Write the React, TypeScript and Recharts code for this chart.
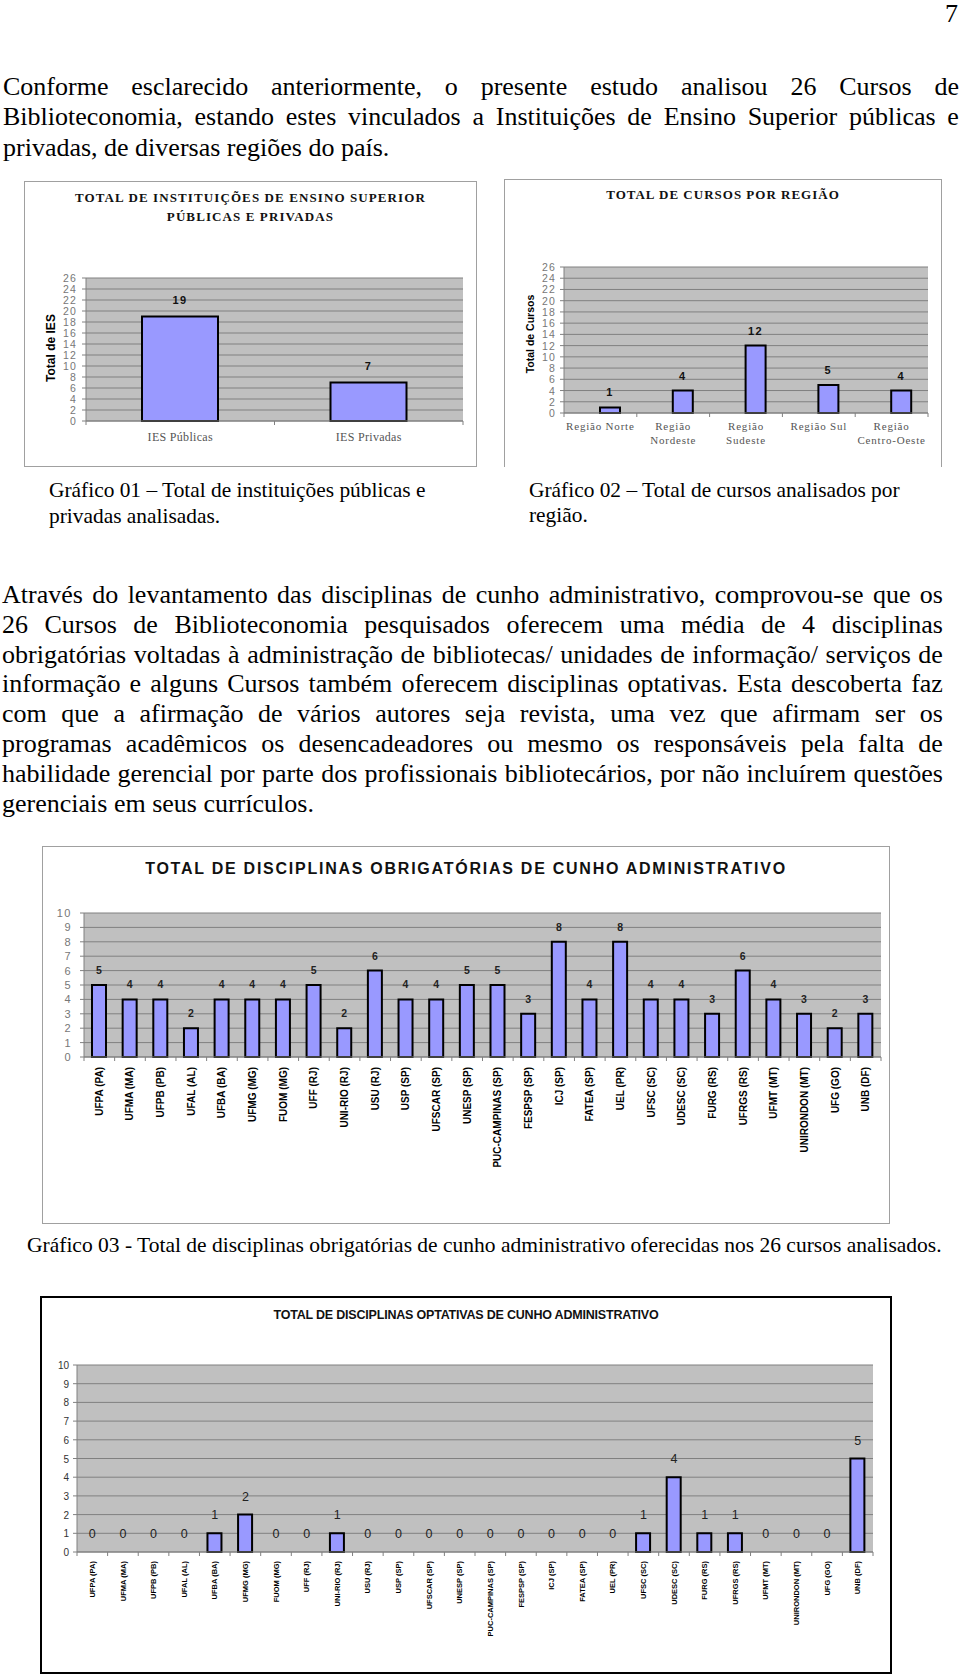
import React from 'react';
import { BarChart, ComposedChart, Bar, Line, XAxis, YAxis, CartesianGrid, LabelList } from 'recharts';

const SANS = '"Liberation Sans", Arial, Helvetica, sans-serif';
const SERIF = '"Liberation Serif", "Times New Roman", Times, serif';

// ---------- data ----------
const iesCategories = ['IES Públicas', 'IES Privadas'];
const iesValues = [19, 7];
const iesTicks = [0, 2, 4, 6, 8, 10, 12, 14, 16, 18, 20, 22, 24, 26];

const regionCategories = ['Região Norte', 'Região Nordeste', 'Região Sudeste', 'Região Sul', 'Região Centro-Oeste'];
const regionValues = [1, 4, 12, 5, 4];
const regionTicks = [0, 2, 4, 6, 8, 10, 12, 14, 16, 18, 20, 22, 24, 26];

const courseCategories = [
  'UFPA (PA)', 'UFMA (MA)', 'UFPB (PB)', 'UFAL (AL)', 'UFBA (BA)', 'UFMG (MG)', 'FUOM (MG)',
  'UFF (RJ)', 'UNI-RIO (RJ)', 'USU (RJ)', 'USP (SP)', 'UFSCAR (SP)', 'UNESP (SP)',
  'PUC-CAMPINAS (SP)', 'FESPSP (SP)', 'ICJ (SP)', 'FATEA (SP)', 'UEL (PR)', 'UFSC (SC)',
  'UDESC (SC)', 'FURG (RS)', 'UFRGS (RS)', 'UFMT (MT)', 'UNIRONDON (MT)', 'UFG (GO)', 'UNB (DF)',
];
const mandatoryValues = [5, 4, 4, 2, 4, 4, 4, 5, 2, 6, 4, 4, 5, 5, 3, 8, 4, 8, 4, 4, 3, 6, 4, 3, 2, 3];
const optionalValues = [0, 0, 0, 0, 1, 2, 0, 0, 1, 0, 0, 0, 0, 0, 0, 0, 0, 0, 1, 4, 1, 1, 0, 0, 0, 5];
const disciplineTicks = [0, 1, 2, 3, 4, 5, 6, 7, 8, 9, 10];

const paragraph1 = [
  'Conforme esclarecido anteriormente, o presente estudo analisou 26 Cursos de',
  'Biblioteconomia, estando estes vinculados a Instituições de Ensino Superior públicas e',
  'privadas, de diversas regiões do país.',
];
const paragraph2 = [
  'Através do levantamento das disciplinas de cunho administrativo, comprovou-se que os',
  '26 Cursos de Biblioteconomia pesquisados oferecem uma média de 4 disciplinas',
  'obrigatórias voltadas à administração de bibliotecas/ unidades de informação/ serviços de',
  'informação e alguns Cursos também oferecem disciplinas optativas. Esta descoberta faz',
  'com que a afirmação de vários autores seja revista, uma vez que afirmam ser os',
  'programas acadêmicos os desencadeadores ou mesmo os responsáveis pela falta de',
  'habilidade gerencial por parte dos profissionais bibliotecários, por não incluírem questões',
  'gerenciais em seus currículos.',
];

const iesData = iesCategories.map((name, i) => ({ name, value: iesValues[i] }));
const regionData = regionCategories.map((name, i) => ({ name, value: regionValues[i] }));
const mandatoryData = courseCategories.map((name, i) => ({ name, value: mandatoryValues[i] }));
const optionalData = courseCategories.map((name, i) => ({ name, value: optionalValues[i] }));

// ---------- helpers ----------
function TextLine(props: any) {
  const { text, left, width, baseline, fontSize, justify } = props;
  const lh = Math.round(fontSize * 1.25);
  const top = baseline - (lh - 1.107 * fontSize) / 2 - 0.891 * fontSize;
  const style: any = {
    position: 'absolute', left, top, width, height: lh, lineHeight: `${lh}px`,
    fontSize, fontFamily: SERIF, color: '#000', whiteSpace: 'nowrap',
  };
  if (justify) {
    return (
      <div style={{ ...style, display: 'flex', justifyContent: 'space-between' }}>
        {text.split(' ').map((w: string, i: number) => <span key={i}>{w}</span>)}
      </div>
    );
  }
  return <div style={style}>{text}</div>;
}

function makeCategoryTick(band: number, lastName: string, render: (x: number, y: number, v: string) => any) {
  return (props: any) => {
    const { x, y, payload } = props;
    const v = String(payload.value);
    return (
      <g>
        <line x1={x - band / 2} y1={y} x2={x - band / 2} y2={y + 4} stroke="#808080" />
        {v === lastName && <line x1={x + band / 2} y1={y} x2={x + band / 2} y2={y + 4} stroke="#808080" />}
        {render(x, y, v)}
      </g>
    );
  };
}

function makeYTick(style: any) {
  return (props: any) => (
    <text x={props.x} y={props.y} dy={4} textAnchor="end" {...style}>{props.payload.value}</text>
  );
}

function makeValueLabel(style: any, gap: number) {
  return (props: any) => {
    const { x, y, width, value } = props;
    return (
      <text x={Number(x) + Number(width) / 2} y={Number(y) - gap} textAnchor="middle" {...style}>{value}</text>
    );
  };
}

function makePointLabel(style: any, gap: number) {
  return (props: any) => {
    const { x, y, value, index } = props;
    return (
      <text key={'pl' + index} x={Number(x)} y={Number(y) - gap} textAnchor="middle" {...style}>{value}</text>
    );
  };
}

const GRID = '#808080';
const PLOT_BG = '#C0C0C0';
const BAR = '#9999FF';

export default function App() {
  const c1 = { w: 453, h: 286, m: { top: 97, right: 14, bottom: 16, left: 22 }, yw: 40, xh: 30 };
  const c1Band = (c1.w - c1.m.left - c1.yw - c1.m.right) / iesCategories.length;
  const c2 = { w: 438, h: 288, m: { top: 88, right: 14, bottom: 14, left: 20 }, yw: 40, xh: 40 };
  const c2Band = (c2.w - c2.m.left - c2.yw - c2.m.right) / regionCategories.length;
  const c3 = { w: 848, h: 378, m: { top: 67, right: 9, bottom: 17, left: 2 }, yw: 40, xh: 150 };
  const c3Band = (c3.w - c3.m.left - c3.yw - c3.m.right) / courseCategories.length;
  const c4 = { w: 852, h: 378, m: { top: 69, right: 19, bottom: 12, left: 2 }, yw: 35, xh: 110 };
  const c4Band = (c4.w - c4.m.left - c4.yw - c4.m.right) / courseCategories.length;

  const lastCourse = courseCategories[courseCategories.length - 1];

  return (
    <div style={{ position: 'absolute', left: 0, top: 0, width: 960, height: 1677, background: '#fff', overflow: 'hidden' }}>
      {/* page number */}
      <div style={{ position: 'absolute', left: 0, top: 23 - 0.891 * 26 - (32 - 1.107 * 26) / 2, width: 958, height: 32, lineHeight: '32px', textAlign: 'right', fontFamily: SERIF, fontSize: 26 }}>7</div>

      {paragraph1.map((t, i) => (
        <TextLine key={'p1' + i} text={t} left={3} width={956} baseline={95 + i * 30.5} fontSize={26} justify={i < paragraph1.length - 1} />
      ))}

      {/* ---------- Chart 1 ---------- */}
      <div style={{ position: 'absolute', left: 24, top: 181 }}>
        <BarChart width={c1.w} height={c1.h} data={iesData} margin={c1.m} barSize={76}>
          <CartesianGrid vertical={false} stroke={GRID} fill={PLOT_BG} fillOpacity={1} />
          <XAxis
            dataKey="name" interval={0} height={c1.xh} tickSize={0} tickMargin={0} tickLine={false}
            axisLine={{ stroke: GRID }}
            tick={makeCategoryTick(c1Band, iesCategories[iesCategories.length - 1], (x, y, v) => (
              <text x={x} y={y + 20} textAnchor="middle" fontFamily={SERIF} fontSize={12} fill="#555" letterSpacing={0.3}>{v}</text>
            ))}
          />
          <YAxis
            domain={[0, 26]} ticks={iesTicks} interval={0} width={c1.yw} tickSize={4} tickMargin={5}
            axisLine={{ stroke: GRID }} tickLine={{ stroke: GRID }}
            tick={makeYTick({ fontFamily: SANS, fontSize: 10.5, fill: '#777', letterSpacing: 1.2 })}
          />
          <Bar dataKey="value" fill={BAR} stroke="#000" strokeWidth={2} isAnimationActive={false}>
            <LabelList dataKey="value" content={makeValueLabel({ fontFamily: SANS, fontSize: 11, fontWeight: 'bold', fill: '#111', letterSpacing: 1.5 }, 13)} />
          </Bar>
        </BarChart>
      </div>
      <div style={{ position: 'absolute', left: 24, top: 181, width: 453, height: 286, boxSizing: 'border-box', border: '1px solid #A0A0A0', pointerEvents: 'none' }} />
      <div style={{ position: 'absolute', left: 24, top: 188, width: 453, textAlign: 'center', fontFamily: SERIF, fontWeight: 'bold', fontSize: 13, letterSpacing: 1.1, lineHeight: '19px', color: '#111' }}>
        <div>TOTAL DE INSTITUIÇÕES DE ENSINO SUPERIOR</div>
        <div>PÚBLICAS E PRIVADAS</div>
      </div>
      <div style={{ position: 'absolute', left: 51 - 60, top: 348 - 8, width: 120, height: 16, lineHeight: '16px', textAlign: 'center', transform: 'rotate(-90deg)', fontFamily: SANS, fontWeight: 'bold', fontSize: 12, color: '#000' }}>Total de IES</div>

      {/* ---------- Chart 2 ---------- */}
      <div style={{ position: 'absolute', left: 504, top: 179 }}>
        <BarChart width={c2.w} height={c2.h} data={regionData} margin={c2.m} barGap={0}>
          <CartesianGrid vertical={false} stroke={GRID} fill={PLOT_BG} fillOpacity={1} />
          <XAxis
            dataKey="name" interval={0} height={c2.xh} tickSize={0} tickMargin={0} tickLine={false}
            axisLine={{ stroke: GRID }}
            tick={makeCategoryTick(c2Band, regionCategories[regionCategories.length - 1], (x, y, v) => {
              const parts = v.length > 12 ? [v.slice(0, v.indexOf(' ')), v.slice(v.indexOf(' ') + 1)] : [v];
              return (
                <text x={x} y={y + 17} textAnchor="middle" fontFamily={SERIF} fontSize={11} fill="#555" letterSpacing={0.8}>
                  {parts.map((p, i) => <tspan key={i} x={x} dy={i === 0 ? 0 : 14}>{p}</tspan>)}
                </text>
              );
            })}
          />
          <YAxis
            domain={[0, 26]} ticks={regionTicks} interval={0} width={c2.yw} tickSize={4} tickMargin={4}
            axisLine={{ stroke: GRID }} tickLine={{ stroke: GRID }}
            tick={makeYTick({ fontFamily: SANS, fontSize: 10.5, fill: '#777', letterSpacing: 1.2 })}
          />
          <Bar dataKey="placeholder" barSize={20} fill="none" isAnimationActive={false} />
          <Bar dataKey="value" barSize={20} fill={BAR} stroke="#000" strokeWidth={2} isAnimationActive={false}>
            <LabelList dataKey="value" content={makeValueLabel({ fontFamily: SANS, fontSize: 11, fontWeight: 'bold', fill: '#111', letterSpacing: 1.5 }, 11)} />
          </Bar>
        </BarChart>
      </div>
      <div style={{ position: 'absolute', left: 504, top: 179, width: 438, height: 288, boxSizing: 'border-box', borderLeft: '1px solid #A0A0A0', borderTop: '1px solid #A0A0A0', borderRight: '1px solid #A0A0A0', pointerEvents: 'none' }} />
      <div style={{ position: 'absolute', left: 504, top: 185, width: 438, textAlign: 'center', fontFamily: SERIF, fontWeight: 'bold', fontSize: 13, letterSpacing: 1, lineHeight: '19px', color: '#111' }}>
        TOTAL DE CURSOS POR REGIÃO
      </div>
      <div style={{ position: 'absolute', left: 530 - 60, top: 334 - 8, width: 120, height: 16, lineHeight: '16px', textAlign: 'center', transform: 'rotate(-90deg)', fontFamily: SANS, fontWeight: 'bold', fontSize: 10.5, color: '#000' }}>Total de Cursos</div>

      {/* captions 1 & 2 */}
      <TextLine text="Gráfico 01 – Total de instituições públicas e" left={49} width={420} baseline={498} fontSize={21.4} />
      <TextLine text="privadas analisadas." left={49} width={420} baseline={524} fontSize={21.4} />
      <TextLine text="Gráfico 02 – Total de cursos analisados por" left={529} width={420} baseline={498} fontSize={21.4} />
      <TextLine text="região." left={529} width={420} baseline={523} fontSize={21.4} />

      {paragraph2.map((t, i) => (
        <TextLine key={'p2' + i} text={t} left={2} width={941} baseline={603 + i * 29.9} fontSize={26} justify={i < paragraph2.length - 1} />
      ))}

      {/* ---------- Chart 3 ---------- */}
      <div style={{ position: 'absolute', left: 42, top: 846 }}>
        <BarChart width={c3.w} height={c3.h} data={mandatoryData} margin={c3.m} barSize={14}>
          <CartesianGrid vertical={false} stroke={GRID} fill={PLOT_BG} fillOpacity={1} />
          <XAxis
            dataKey="name" interval={0} height={c3.xh} tickSize={0} tickMargin={0} tickLine={false}
            axisLine={{ stroke: GRID }}
            tick={makeCategoryTick(c3Band, lastCourse, (x, y, v) => (
              <text x={x} y={y + 10} dy="0.35em" textAnchor="end" transform={`rotate(-90, ${x}, ${y + 10})`} fontFamily={SANS} fontSize={10} fontWeight="bold" fill="#000">{v}</text>
            ))}
          />
          <YAxis
            domain={[0, 10]} ticks={disciplineTicks} interval={0} width={c3.yw} tickSize={4} tickMargin={8}
            axisLine={{ stroke: GRID }} tickLine={{ stroke: GRID }}
            tick={makeYTick({ fontFamily: SANS, fontSize: 11, fill: '#777', letterSpacing: 1.5 })}
          />
          <Bar dataKey="value" fill={BAR} stroke="#000" strokeWidth={2} isAnimationActive={false}>
            <LabelList dataKey="value" content={makeValueLabel({ fontFamily: SANS, fontSize: 10.5, fontWeight: 'bold', fill: '#222' }, 11)} />
          </Bar>
        </BarChart>
      </div>
      <div style={{ position: 'absolute', left: 42, top: 846, width: 848, height: 378, boxSizing: 'border-box', border: '1px solid #A0A0A0', pointerEvents: 'none' }} />
      <div style={{ position: 'absolute', left: 42, top: 858, width: 848, textAlign: 'center', fontFamily: SANS, fontWeight: 'bold', fontSize: 16, letterSpacing: 1.75, lineHeight: '22px', color: '#111' }}>
        TOTAL DE DISCIPLINAS OBRIGATÓRIAS DE CUNHO ADMINISTRATIVO
      </div>

      <TextLine text="Gráfico 03 - Total de disciplinas obrigatórias de cunho administrativo oferecidas nos 26 cursos analisados." left={27} width={940} baseline={1253} fontSize={21.5} />

      {/* ---------- Chart 4 ---------- */}
      <div style={{ position: 'absolute', left: 40, top: 1296 }}>
        <ComposedChart width={c4.w} height={c4.h} data={optionalData} margin={c4.m} barSize={14}>
          <CartesianGrid vertical={false} stroke={GRID} fill={PLOT_BG} fillOpacity={1} />
          <XAxis
            dataKey="name" interval={0} height={c4.xh} tickSize={0} tickMargin={0} tickLine={false}
            axisLine={{ stroke: GRID }}
            tick={makeCategoryTick(c4Band, lastCourse, (x, y, v) => (
              <text x={x} y={y + 9} dy="0.35em" textAnchor="end" transform={`rotate(-90, ${x}, ${y + 9})`} fontFamily={SANS} fontSize={7.5} fontWeight="bold" fill="#000">{v}</text>
            ))}
          />
          <YAxis
            domain={[0, 10]} ticks={disciplineTicks} interval={0} width={c4.yw} tickSize={4} tickMargin={4}
            axisLine={{ stroke: GRID }} tickLine={{ stroke: GRID }}
            tick={makeYTick({ fontFamily: SANS, fontSize: 10, fill: '#333' })}
          />
          <Bar dataKey="value" fill={BAR} stroke="#000" strokeWidth={2} isAnimationActive={false} />
          <Line
            dataKey="value" stroke="none" dot={false} activeDot={false} legendType="none"
            isAnimationActive={false}
            label={makePointLabel({ fontFamily: SANS, fontSize: 12.5, fill: '#222' }, 14)}
          />
        </ComposedChart>
      </div>
      <div style={{ position: 'absolute', left: 40, top: 1296, width: 852, height: 378, boxSizing: 'border-box', border: '2px solid #000', pointerEvents: 'none' }} />
      <div style={{ position: 'absolute', left: 40, top: 1306, width: 852, textAlign: 'center', fontFamily: SANS, fontWeight: 'bold', fontSize: 12.5, letterSpacing: -0.2, lineHeight: '18px', color: '#111' }}>
        TOTAL DE DISCIPLINAS OPTATIVAS DE CUNHO ADMINISTRATIVO
      </div>
    </div>
  );
}
